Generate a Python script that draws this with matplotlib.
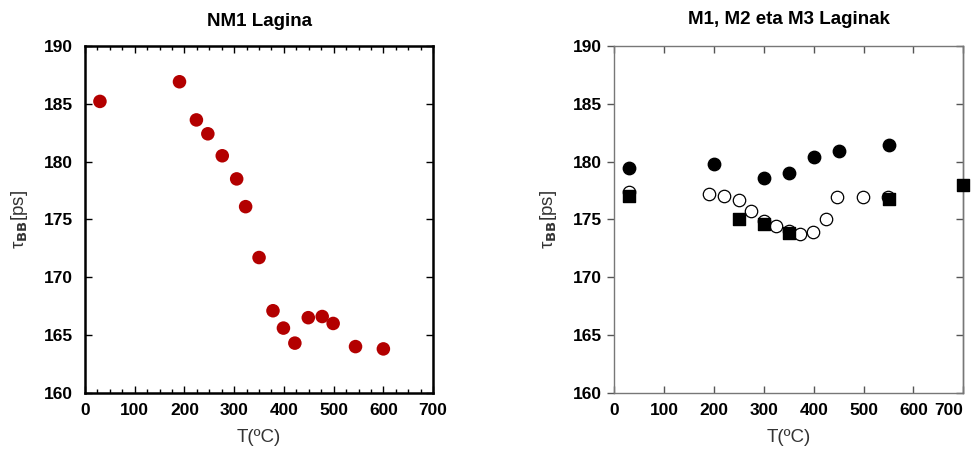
import numpy as np
import matplotlib.pyplot as plt
from matplotlib.ticker import MultipleLocator

plt.rcParams['font.family'] = ['Liberation Sans', 'DejaVu Sans']

# NM1 lagina
t_nm1 = [30, 190, 224, 247, 276, 305, 323, 350, 378, 399, 422, 449, 477, 499, 544, 600]
tau_nm1 = [185.2, 186.9, 183.6, 182.4, 180.5, 178.5, 176.1, 171.7, 167.1, 165.6, 164.3,
           166.5, 166.6, 166.0, 164.0, 163.8]

# M1, M2, M3 laginak
t_m1 = [30, 200, 300, 350, 400, 450, 550]
tau_m1 = [179.4, 179.8, 178.6, 179.0, 180.4, 180.9, 181.4]

t_m2 = [30, 190, 220, 250, 275, 300, 325, 350, 372, 398, 425, 447, 498, 549]
tau_m2 = [177.4, 177.2, 177.0, 176.7, 175.7, 174.9, 174.4, 174.0, 173.7, 173.9, 175.0,
          176.9, 176.95, 176.9]

t_m3 = [30, 250, 300, 350, 550, 700]
tau_m3 = [177.0, 175.0, 174.6, 173.8, 176.8, 178.0]

x_ticks = [0, 100, 200, 300, 400, 500, 600, 700]
y_ticks = [160, 165, 170, 175, 180, 185, 190]

fig = plt.figure(figsize=(9.75, 4.5), dpi=100)
ax1 = fig.add_axes([0.0872, 0.127, 0.357, 0.771])
ax2 = fig.add_axes([0.630, 0.127, 0.358, 0.771])

label_col = '#333333'

# ezkerreko grafikoa
ax1.scatter(t_nm1, tau_nm1, s=95, color='#b30000', edgecolors='none', zorder=3)
ax1.set_title('NM1 Lagina', fontsize=13.5, fontweight='bold', pad=14)
for sp in ax1.spines.values():
    sp.set_linewidth(1.8)
    sp.set_color('black')
ax1.set_xticks(x_ticks)
ax1.set_yticks(y_ticks)
ax1.xaxis.set_minor_locator(MultipleLocator(25))
ax1.tick_params(axis='both', which='major', direction='in', top=True, right=True,
                length=5, width=1, labelsize=12.5)
ax1.tick_params(axis='x', which='major', pad=7)
ax1.tick_params(axis='y', which='major', pad=9)
ax1.tick_params(axis='x', which='minor', direction='in', top=True, length=3, width=1)

# eskuineko grafikoa
ax2.scatter(t_m1, tau_m1, s=80, color='black', marker='o', zorder=3)
ax2.scatter(t_m2, tau_m2, s=80, facecolors='white', edgecolors='black',
            linewidths=0.9, marker='o', zorder=3)
ax2.scatter(t_m3, tau_m3, s=85, color='black', marker='s', zorder=4, clip_on=False)
ax2.set_title('M1, M2 eta M3 Laginak', fontsize=13.5, fontweight='bold', pad=16)
for sp in ax2.spines.values():
    sp.set_linewidth(1.0)
    sp.set_color('#777777')
ax2.set_xticks(x_ticks)
ax2.set_yticks(y_ticks)
ax2.tick_params(axis='x', which='major', direction='in', top=True, length=5,
                width=1, color='#555555', labelsize=12.5, pad=7)
ax2.tick_params(axis='y', which='major', direction='out', right=False, length=5,
                width=1, color='#555555', labelsize=12.5, pad=4)
# eskuineko ardatzean tick-ak barrura
ax2r = ax2.secondary_yaxis('right')
ax2r.set_yticks(y_ticks)
ax2r.tick_params(axis='y', direction='in', length=5, width=1, color='#555555',
                 labelright=False)
ax2r.spines['right'].set_color('#777777')
ax2r.spines['right'].set_linewidth(1.0)

for ax in (ax1, ax2):
    ax.set_xlim(0, 700)
    ax.set_ylim(160, 190)
    ax.set_xlabel('T(ºC)', fontsize=13.5, color=label_col, labelpad=8)
    ax.set_ylabel(r'τ$_{\mathbf{BB}}$[ps]', fontsize=13.5, color=label_col, labelpad=10)
    for lab in ax.get_xticklabels() + ax.get_yticklabels():
        lab.set_fontweight('bold')

# azken etiketa (700) irudiaren barruan gera dadin
ax2.xaxis.get_major_ticks()[-1].label1.set_horizontalalignment('right')

fig.savefig('out.png', dpi=100)
